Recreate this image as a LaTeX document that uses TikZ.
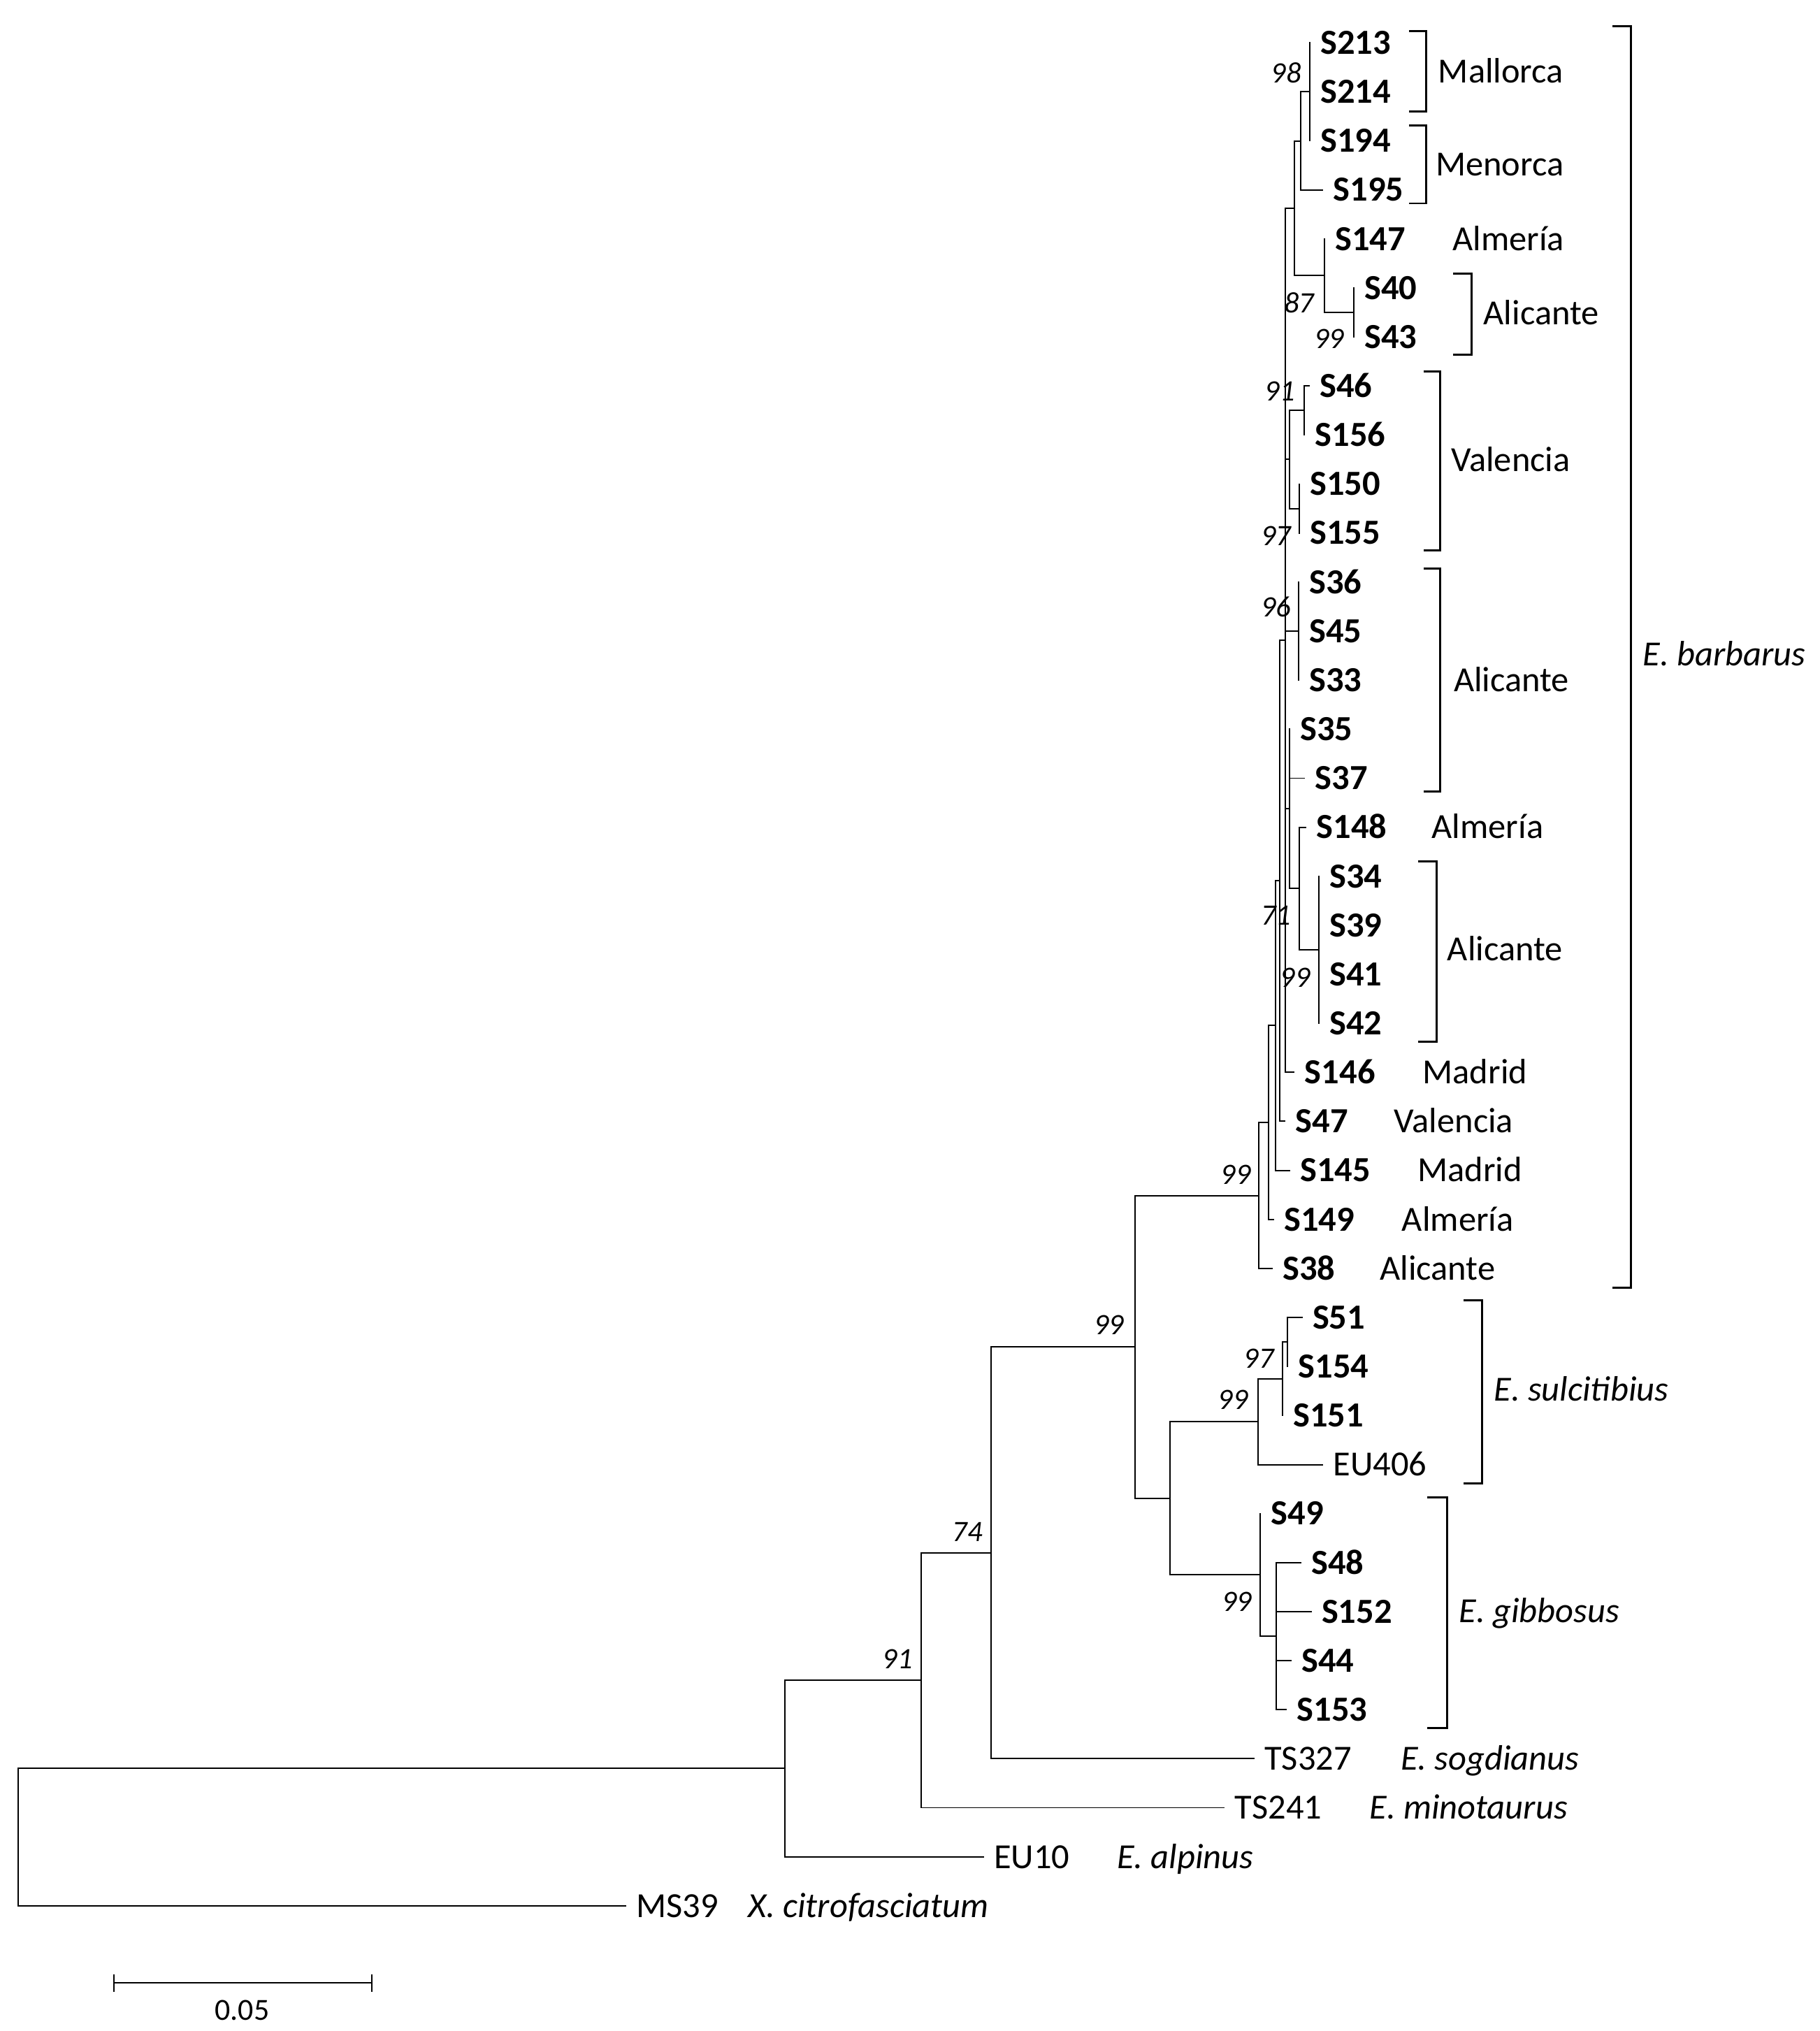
\documentclass[tikz,border=0pt]{standalone}
\usepackage{fontspec}
\setmainfont{Carlito}
\tikzset{br/.style={line width=0.6pt,line cap=rect},
  clade/.style={line width=0.9pt},
  leaf/.style={anchor=west,inner xsep=0.16cm,inner ysep=0pt,text height=10pt,text depth=0pt,font=\fontsize{15.5}{18}\selectfont\bfseries},
  plain/.style={anchor=west,inner xsep=0.16cm,inner ysep=0pt,text height=10pt,text depth=0pt,font=\fontsize{15.5}{18}\selectfont},
  loc/.style={anchor=west,inner sep=0pt,text height=10pt,text depth=0pt,font=\fontsize{15.5}{18}\selectfont},
  spec/.style={anchor=west,inner sep=0pt,text height=10pt,text depth=0pt,font=\fontsize{15.5}{18}\selectfont\itshape},
  boot/.style={inner sep=0pt,text height=8.2pt,text depth=0pt,font=\fontsize{13}{15}\selectfont\itshape}}

\begin{document}
\begin{tikzpicture}[x=0.02cm,y=-0.02cm]
\useasboundingbox (0,0) rectangle (1405,1568);

% tips
\node[leaf] (s213) at (1011,33.0) {S213};
\node[leaf] (s214) at (1011,70.9) {S214};
\node[leaf] (s194) at (1011,108.7) {S194};
\node[leaf] (s195) at (1021,146.6) {S195};
\node[leaf] (s147) at (1022.5,184.4) {S147};
\node[leaf] (s40) at (1045,222.3) {S40};
\node[leaf] (s43) at (1045,260.1) {S43};
\node[leaf] (s46) at (1010.5,298.0) {S46};
\node[leaf] (s156) at (1007,335.8) {S156};
\node[leaf] (s150) at (1003,373.7) {S150};
\node[leaf] (s155) at (1003,411.5) {S155};
\node[leaf] (s36) at (1002.5,449.4) {S36};
\node[leaf] (s45) at (1002.5,487.2) {S45};
\node[leaf] (s33) at (1002.5,525.1) {S33};
\node[leaf] (s35) at (995.5,562.9) {S35};
\node[leaf] (s37) at (1007,600.8) {S37};
\node[leaf] (s148) at (1008,638.6) {S148};
\node[leaf] (s34) at (1018,676.5) {S34};
\node[leaf] (s39) at (1018,714.3) {S39};
\node[leaf] (s41) at (1018,752.2) {S41};
\node[leaf] (s42) at (1018,790.0) {S42};
\node[leaf] (s146) at (999,827.9) {S146};
\node[leaf] (s47) at (992,865.7) {S47};
\node[leaf] (s145) at (995.5,903.6) {S145};
\node[leaf] (s149) at (983,941.4) {S149};
\node[leaf] (s38) at (982,979.3) {S38};
\node[leaf] (s51) at (1005,1017.1) {S51};
\node[leaf] (s154) at (994,1055.0) {S154};
\node[leaf] (s151) at (990,1092.8) {S151};
\node[plain] (eu406) at (1021,1130.7) {EU406};
\node[leaf] (s49) at (973,1168.5) {S49};
\node[leaf] (s48) at (1004,1206.4) {S48};
\node[leaf] (s152) at (1012,1244.2) {S152};
\node[leaf] (s44) at (996.5,1282.1) {S44};
\node[leaf] (s153) at (993,1319.9) {S153};
\node[plain] (ts327) at (968,1357.8) {TS327};
\node[plain] (ts241) at (945,1395.6) {TS241};
\node[plain] (eu10) at (759,1433.5) {EU10};
\node[plain] (ms39) at (483,1471.3) {MS39};

% inner nodes
\coordinate (n98) at (1011,70.9);
\coordinate (nA) at (1004,108.75);
\coordinate (n4043) at (1045,241.2);
\coordinate (n87) at (1022.5,212.8);
\coordinate (nTop) at (999.5,160.8);
\coordinate (n91v) at (1007,316.9);
\coordinate (n97v) at (1003,392.6);
\coordinate (nVal) at (995.5,354.75);
\coordinate (n96) at (1002.5,487.2);
\coordinate (nS34) at (1018,733.25);
\coordinate (n148) at (1003,685.9);
\coordinate (n5) at (995.5,624.4);
\coordinate (n4) at (992.5,494.35);
\coordinate (n3) at (988,680.0);
\coordinate (n2) at (984.5,791.8);
\coordinate (n1) at (979.5,866.6);
\coordinate (barb) at (972,922.95);
\coordinate (n51) at (994,1036.05);
\coordinate (n97s) at (990,1064.4);
\coordinate (sulc) at (971,1097.55);
\coordinate (n985) at (985,1263.15);
\coordinate (gibb) at (973,1215.8);
\coordinate (ns) at (903,1156.7);
\coordinate (n99b) at (876,1039.8);
\coordinate (n99a) at (765,1198.8);
\coordinate (n74) at (711,1297.2);
\coordinate (n91) at (606,1365.35);
\coordinate (root) at (14,1418.3);

% branches
\draw[br] (root)|-(n91) (root)|-(ms39) (n91)|-(n74) (n91)|-(eu10)
  (n74)|-(n99a) (n74)|-(ts241) (n99a)|-(n99b) (n99a)|-(ts327)
  (n99b)|-(barb) (n99b)|-(ns);
\draw[br] (barb)|-(n1) (barb)|-(s38) (n1)|-(n2) (n1)|-(s149)
  (n2)|-(n3) (n2)|-(s145) (n3)|-(n4) (n3)|-(s47)
  (n4)|-(nTop) (n4)|-(nVal) (n4)|-(n96) (n4)|-(n5) (n4)|-(s146);
\draw[br] (nTop)|-(nA) (nTop)|-(n87) (nA)|-(n98) (nA)|-(s195)
  (n98)|-(s213) (n98)|-(s214) (n98)|-(s194)
  (n87)|-(s147) (n87)|-(n4043) (n4043)|-(s40) (n4043)|-(s43);
\draw[br] (nVal)|-(n91v) (nVal)|-(n97v) (n91v)|-(s46) (n91v)|-(s156)
  (n97v)|-(s150) (n97v)|-(s155) (n96)|-(s36) (n96)|-(s45) (n96)|-(s33);
\draw[br] (n5)|-(s35) (n5)|-(s37) (n5)|-(n148) (n148)|-(s148) (n148)|-(nS34)
  (nS34)|-(s34) (nS34)|-(s39) (nS34)|-(s41) (nS34)|-(s42);
\draw[br] (ns)|-(sulc) (ns)|-(gibb) (sulc)|-(n97s) (sulc)|-(eu406)
  (n97s)|-(n51) (n97s)|-(s151) (n51)|-(s51) (n51)|-(s154)
  (gibb)|-(s49) (gibb)|-(n985) (n985)|-(s48) (n985)|-(s152) (n985)|-(s44) (n985)|-(s153);

% bootstrap values
\node[boot] (b98) at (993,57) {98};
\node[boot] (b87) at (1003,234) {87};
\node[boot] (b99t) at (1026,262) {99};
\node[boot] (b91v) at (988,302) {91};
\node[boot] (b97v) at (985,414) {97};
\node[boot] (b96) at (985,469) {96};
\node[boot] (b71) at (985,707) {71};
\node[boot] (b99s34) at (1000,755) {99};
\node[boot] (b99bar) at (954,907) {99};
\node[boot] (b99b) at (856,1023) {99};
\node[boot] (b97s) at (972,1049) {97};
\node[boot] (b99sul) at (952,1081) {99};
\node[boot] (b99gib) at (955,1237) {99};
\node[boot] (b74) at (747,1183) {74};
\node[boot] (b91) at (693,1281) {91};

% places
\node[loc] (lmal) at (1110,55) {Mallorca};
\node[loc] (lmen) at (1108,127) {Menorca};
\node[loc] (lalm1) at (1121,184.4) {Almería};
\node[loc] (lali1) at (1145,242) {Alicante};
\node[loc] (lval1) at (1120,355) {Valencia};
\node[loc] (lali2) at (1122,525) {Alicante};
\node[loc] (lalm2) at (1105,638.6) {Almería};
\node[loc] (lali3) at (1117,733) {Alicante};
\node[loc] (lmad1) at (1098,827.9) {Madrid};
\node[loc] (lval2) at (1076,865.7) {Valencia};
\node[loc] (lmad2) at (1094,903.6) {Madrid};
\node[loc] (lalm3) at (1082,941.4) {Almería};
\node[loc] (lali4) at (1065,979.3) {Alicante};

% species
\node[spec] (sbar) at (1268,505) {E. barbarus};
\node[spec] (ssul) at (1153,1073) {E. sulcitibius};
\node[spec] (sgib) at (1126,1244) {E. gibbosus};
\node[spec] (ssog) at (1081,1357.8) {E. sogdianus};
\node[spec] (smin) at (1057,1395.6) {E. minotaurus};
\node[spec] (salp) at (862,1433.5) {E. alpinus};
\node[spec] (sxci) at (577,1471.3) {X. citrofasciatum};

% clade brackets
\draw[clade] (1088,24)--(1101,24)--(1101,86)--(1088,86);
\draw[clade] (1088,97)--(1101,97)--(1101,157)--(1088,157);
\draw[clade] (1122,211)--(1136,211)--(1136,274)--(1122,274);
\draw[clade] (1099,287)--(1112,287)--(1112,425)--(1099,425);
\draw[clade] (1099,439)--(1112,439)--(1112,611)--(1099,611);
\draw[clade] (1095,665)--(1109,665)--(1109,804)--(1095,804);
\draw[clade] (1245,20)--(1259,20)--(1259,994)--(1245,994);
\draw[clade] (1130,1004)--(1144,1004)--(1144,1145)--(1130,1145);
\draw[clade] (1102,1156)--(1117,1156)--(1117,1334)--(1102,1334);

% scale bar
\coordinate (sbl) at (88,1531);
\coordinate (sbr) at (287,1531);
\draw[br] (sbl)--(sbr) (sbl)++(0,-6)--++(0,12) (sbr)++(0,-6)--++(0,12);
\node[inner sep=0pt,font=\fontsize{13.5}{16}\selectfont] (sbt) at (187,1552) {0.05};
\end{tikzpicture}
\end{document}
